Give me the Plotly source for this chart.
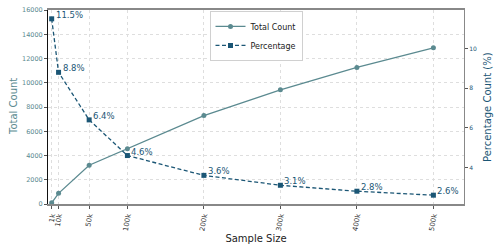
import plotly.graph_objects as go

sample_sizes = [1000, 10000, 50000, 100000, 200000, 300000, 400000, 500000]
tick_labels = ["1k", "10k", "50k", "100k", "200k", "300k", "400k", "500k"]
total_count = [100, 880, 3200, 4550, 7290, 9420, 11260, 12880]
percentage = [11.5, 8.8, 6.4, 4.6, 3.6, 3.1, 2.8, 2.6]

c_total = "#5b8a90"
c_pct = "#1b5675"
font = "DejaVu Sans"

fig = go.Figure()
fig.add_trace(go.Scatter(
    x=sample_sizes, y=total_count, name="Total Count", mode="lines+markers",
    line=dict(color=c_total, width=1.3), marker=dict(symbol="circle", size=5, color=c_total),
    yaxis="y"))
fig.add_trace(go.Scatter(
    x=sample_sizes, y=percentage, name="Percentage", mode="lines+markers",
    line=dict(color=c_pct, width=1.3, dash="4px,2.5px"), marker=dict(symbol="square", size=5, color=c_pct),
    yaxis="y2"))

for xv, pv in zip(sample_sizes, percentage):
    fig.add_annotation(x=xv, y=pv, xref="x", yref="y2", text=f"{pv}%", showarrow=False,
                       xanchor="left", yanchor="middle", xshift=2, yshift=4,
                       font=dict(family=font, size=8.5, color=c_pct))

# axis titles as paper annotations for exact placement
fig.add_annotation(x=-35 / 416, y=0.5, xref="paper", yref="paper", text="Total Count",
                   textangle=-90, showarrow=False, xanchor="center", yanchor="middle",
                   font=dict(family=font, size=10, color=c_total))
fig.add_annotation(x=1 + 23 / 416, y=0.5, xref="paper", yref="paper", text="Percentage Count (%)",
                   textangle=-90, showarrow=False, xanchor="center", yanchor="middle",
                   font=dict(family=font, size=10, color=c_pct))

fig.update_layout(
    width=498, height=249,
    margin=dict(l=48, r=34, t=10, b=45),
    paper_bgcolor="white", plot_bgcolor="white",
    font=dict(family=font),
    showlegend=True,
    legend=dict(x=0.5, y=0.995, xanchor="center", yanchor="top",
                bgcolor="white", bordercolor="#d0d0d0", borderwidth=1,
                font=dict(family=font, size=8, color="#222"),
                itemwidth=30, tracegroupgap=0),
    xaxis=dict(range=[-3800, 540000], tickvals=sample_sizes, ticktext=tick_labels,
               tickangle=-80, tickfont=dict(size=7, color="#333"),
               showgrid=True, gridcolor="#dedede", griddash="dot", gridwidth=0.8,
               showline=True, linecolor="#888888", linewidth=1.5, mirror=True,
               ticks="outside", ticklen=3, tickcolor="#555",
               title=dict(text="Sample Size", font=dict(size=10, color="#222"), standoff=4),
               automargin=False, zeroline=False),
    yaxis=dict(range=[0, 16000], tickvals=[0, 2000, 4000, 6000, 8000, 10000, 12000, 14000, 16000],
               tickformat="d",
               tickfont=dict(size=6.5, color=c_total),
               showgrid=True, gridcolor="#dedede", griddash="dot", gridwidth=0.8,
               showline=True, linecolor="#111111", linewidth=1,
               ticks="outside", ticklen=3, tickcolor="#555",
               automargin=False, zeroline=False),
    yaxis2=dict(range=[2.155, 11.945], tickvals=[4, 6, 8, 10], overlaying="y", side="right",
                tickfont=dict(size=6, color=c_pct), showgrid=False,
                showline=True, linecolor="#888888", linewidth=1.2,
                ticks="outside", ticklen=3, tickcolor="#555",
                automargin=False, zeroline=False),
)

fig.write_html("out.html", config={"displayModeBar": False},
               post_script="document.body.style.margin='0px';document.body.style.overflow='hidden';")
